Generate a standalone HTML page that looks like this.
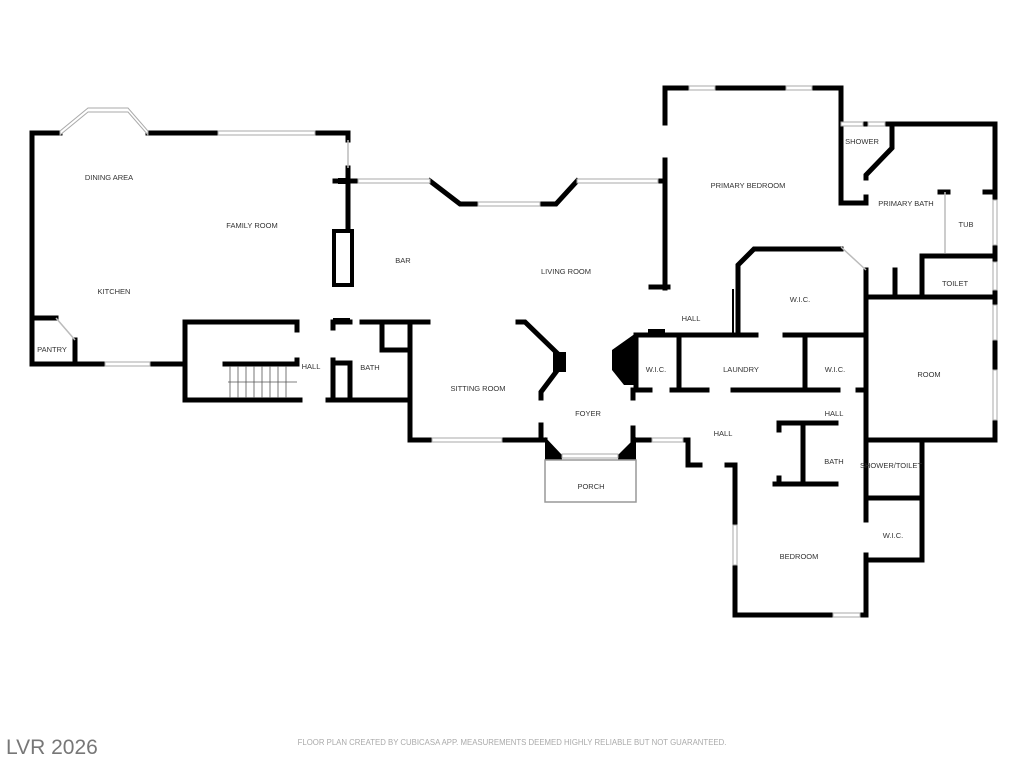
<!DOCTYPE html>
<html><head><meta charset="utf-8"><style>
html,body{margin:0;padding:0;background:#fff;}
svg{display:block}
text{font-family:"Liberation Sans",sans-serif;font-size:7.5px;fill:#333;text-anchor:middle}
</style></head><body>
<svg width="1024" height="768" viewBox="0 0 1024 768" xmlns="http://www.w3.org/2000/svg">
<g fill="none" stroke="#000" stroke-width="5" stroke-linecap="square" stroke-linejoin="miter">
<polyline points="60,133 32,133 32,364 105,364"/>
<polyline points="150,364 185,364 185,400 300,400"/>
<polyline points="148,133 218,133"/>
<polyline points="315,133 348,133 348,140"/>
<line x1="348" y1="168" x2="348" y2="230"/>
<line x1="335" y1="181" x2="356" y2="181"/>
<polyline points="34,318 56,318"/>
<line x1="75" y1="340" x2="75" y2="364"/>
<polyline points="185,364 185,322 297,322 297,330"/>
<polyline points="225,364 297,364 297,360"/>
<polyline points="328,400 410,400"/>
<polyline points="333,322 350,322"/>
<line x1="333" y1="322" x2="333" y2="328"/>
<line x1="333" y1="360" x2="333" y2="400"/>
<polyline points="333,363 350,363 350,400"/>
<polyline points="362,322 410,322"/>
<polyline points="382,322 382,350 410,350"/>
<rect x="334" y="231" width="18" height="54" stroke-width="4"/>
<polyline points="430,181 460,204 478,204"/>
<polyline points="540,204 556,204 577,181"/>
<polyline points="658,181 665,181"/>
<polyline points="665,123 665,88 689,88"/>
<line x1="715" y1="88" x2="786" y2="88"/>
<polyline points="812,88 841,88 841,203"/>
<line x1="665" y1="160" x2="665" y2="288"/>
<line x1="651" y1="287" x2="668" y2="287"/>
<polyline points="885,124 995,124 995,200"/>
<line x1="995" y1="245" x2="995" y2="262"/>
<line x1="995" y1="290" x2="995" y2="305"/>
<line x1="995" y1="340" x2="995" y2="370"/>
<line x1="995" y1="420" x2="995" y2="440"/>
<line x1="863" y1="124" x2="868" y2="124"/>
<polyline points="892,127 892,148 866,175 866,178"/>
<polyline points="841,203 866,203 866,197"/>
<line x1="940" y1="192" x2="948" y2="192"/>
<line x1="985" y1="192" x2="995" y2="192"/>
<polyline points="922,295 922,256 995,256"/>
<line x1="866" y1="297" x2="995" y2="297"/>
<line x1="866" y1="270" x2="866" y2="440"/>
<line x1="895" y1="270" x2="895" y2="297"/>
<polyline points="866,440 995,440"/>
<polyline points="841,249 754,249 738,265 738,335"/>
<line x1="733" y1="290" x2="733" y2="333" stroke-width="2"/>
<polyline points="636,335 756,335"/>
<line x1="785" y1="335" x2="866" y2="335"/>
<line x1="636" y1="335" x2="636" y2="390"/>
<line x1="679" y1="335" x2="679" y2="390"/>
<line x1="805" y1="335" x2="805" y2="390"/>
<line x1="636" y1="390" x2="650" y2="390"/>
<line x1="672" y1="390" x2="707" y2="390"/>
<line x1="733" y1="390" x2="838" y2="390"/>
<line x1="858" y1="390" x2="866" y2="390"/>
<polyline points="410,322 410,440 432,440"/>
<line x1="410" y1="322" x2="428" y2="322"/>
<polyline points="518,322 525,322 556,352"/>
<polyline points="556,372 541,392 541,398"/>
<line x1="502" y1="440" x2="545" y2="440"/>
<line x1="541" y1="425" x2="541" y2="440"/>
<line x1="633" y1="390" x2="633" y2="398"/>
<line x1="633" y1="428" x2="633" y2="440"/>
<line x1="633" y1="440" x2="652" y2="440"/>
<polyline points="683,440 688,440 688,465 700,465"/>
<polyline points="727,465 735,465 735,525"/>
<polyline points="735,565 735,615 833,615"/>
<polyline points="860,615 866,615 866,555"/>
<line x1="866" y1="520" x2="866" y2="440"/>
<polyline points="775,484 836,484"/>
<line x1="803" y1="423" x2="803" y2="484"/>
<line x1="779" y1="423" x2="836" y2="423"/>
<line x1="779" y1="423" x2="779" y2="430"/>
<line x1="779" y1="478" x2="779" y2="484"/>
<polyline points="866,498 922,498"/>
<polyline points="866,440 922,440 922,560 866,560"/>
</g>
<g fill="#000">
<rect x="553" y="352" width="13" height="20"/>
<polygon points="612,350 636,333 636,385 624,385 612,370"/>
<polygon points="545,437 562,455 562,460 545,460"/>
<polygon points="636,437 618,455 618,460 636,460"/>
<rect x="648" y="329" width="17" height="6"/>
<rect x="333" y="318" width="17" height="6"/>
<rect x="338" y="178" width="10" height="6"/>
</g>
<!-- windows -->
<g fill="#fff" stroke="#aaa" stroke-width="1">
<polygon points="60,131 88,108 128,108 148,131 148,135 128,112 88,112 60,135"/>
<rect x="218" y="131" width="97" height="4"/>
<rect x="105" y="362" width="45" height="4"/>
<rect x="358" y="179" width="72" height="4"/>
<rect x="478" y="202" width="62" height="4"/>
<rect x="577" y="179" width="81" height="4"/>
<rect x="689" y="86" width="26" height="4"/>
<rect x="786" y="86" width="26" height="4"/>
<rect x="841" y="122" width="22" height="4"/>
<rect x="868" y="122" width="17" height="4"/>
<rect x="993" y="200" width="4" height="45"/>
<rect x="993" y="262" width="4" height="28"/>
<rect x="993" y="305" width="4" height="35"/>
<rect x="993" y="370" width="4" height="50"/>
<rect x="432" y="438" width="70" height="4"/>
<rect x="652" y="438" width="31" height="4"/>
<rect x="733" y="525" width="4" height="40"/>
<rect x="833" y="613" width="27" height="4"/>
<rect x="562" y="454" width="56" height="4"/>
</g>
<g fill="none" stroke="#bbb" stroke-width="1.5">
<line x1="56" y1="318" x2="75" y2="340"/>
<line x1="841" y1="247" x2="866" y2="270"/>
<line x1="945" y1="192" x2="945" y2="253"/>
<rect x="545" y="460" width="91" height="42" stroke="#999"/>
<line x1="348" y1="140" x2="348" y2="168"/>
</g>
<g stroke="#555" stroke-width="0.8">
<line x1="230" y1="366" x2="230" y2="398"/>
<line x1="238" y1="366" x2="238" y2="398"/>
<line x1="246" y1="366" x2="246" y2="398"/>
<line x1="254" y1="366" x2="254" y2="398"/>
<line x1="262" y1="366" x2="262" y2="398"/>
<line x1="270" y1="366" x2="270" y2="398"/>
<line x1="278" y1="366" x2="278" y2="398"/>
<line x1="286" y1="366" x2="286" y2="398"/>
<line x1="228" y1="382" x2="297" y2="382"/>
</g>
<text x="109" y="180">DINING AREA</text>
<text x="252" y="228">FAMILY ROOM</text>
<text x="114" y="294">KITCHEN</text>
<text x="52" y="352">PANTRY</text>
<text x="403" y="263">BAR</text>
<text x="566" y="274">LIVING ROOM</text>
<text x="748" y="188">PRIMARY BEDROOM</text>
<text x="862" y="144">SHOWER</text>
<text x="906" y="206">PRIMARY BATH</text>
<text x="966" y="227">TUB</text>
<text x="955" y="286">TOILET</text>
<text x="800" y="302">W.I.C.</text>
<text x="691" y="321">HALL</text>
<text x="656" y="372">W.I.C.</text>
<text x="741" y="372">LAUNDRY</text>
<text x="835" y="372">W.I.C.</text>
<text x="929" y="377">ROOM</text>
<text x="311" y="369">HALL</text>
<text x="370" y="370">BATH</text>
<text x="478" y="391">SITTING ROOM</text>
<text x="588" y="416">FOYER</text>
<text x="723" y="436">HALL</text>
<text x="834" y="416">HALL</text>
<text x="834" y="464">BATH</text>
<text x="891" y="468">SHOWER/TOILET</text>
<text x="591" y="489">PORCH</text>
<text x="893" y="538">W.I.C.</text>
<text x="799" y="559">BEDROOM</text>
<text x="512" y="745" style="font-size:7.8px;fill:#aaa">FLOOR PLAN CREATED BY CUBICASA APP. MEASUREMENTS DEEMED HIGHLY RELIABLE BUT NOT GUARANTEED.</text>
<text x="6" y="754" style="font-size:21px;fill:#777;text-anchor:start">LVR 2026</text>
</svg>
</body></html>
